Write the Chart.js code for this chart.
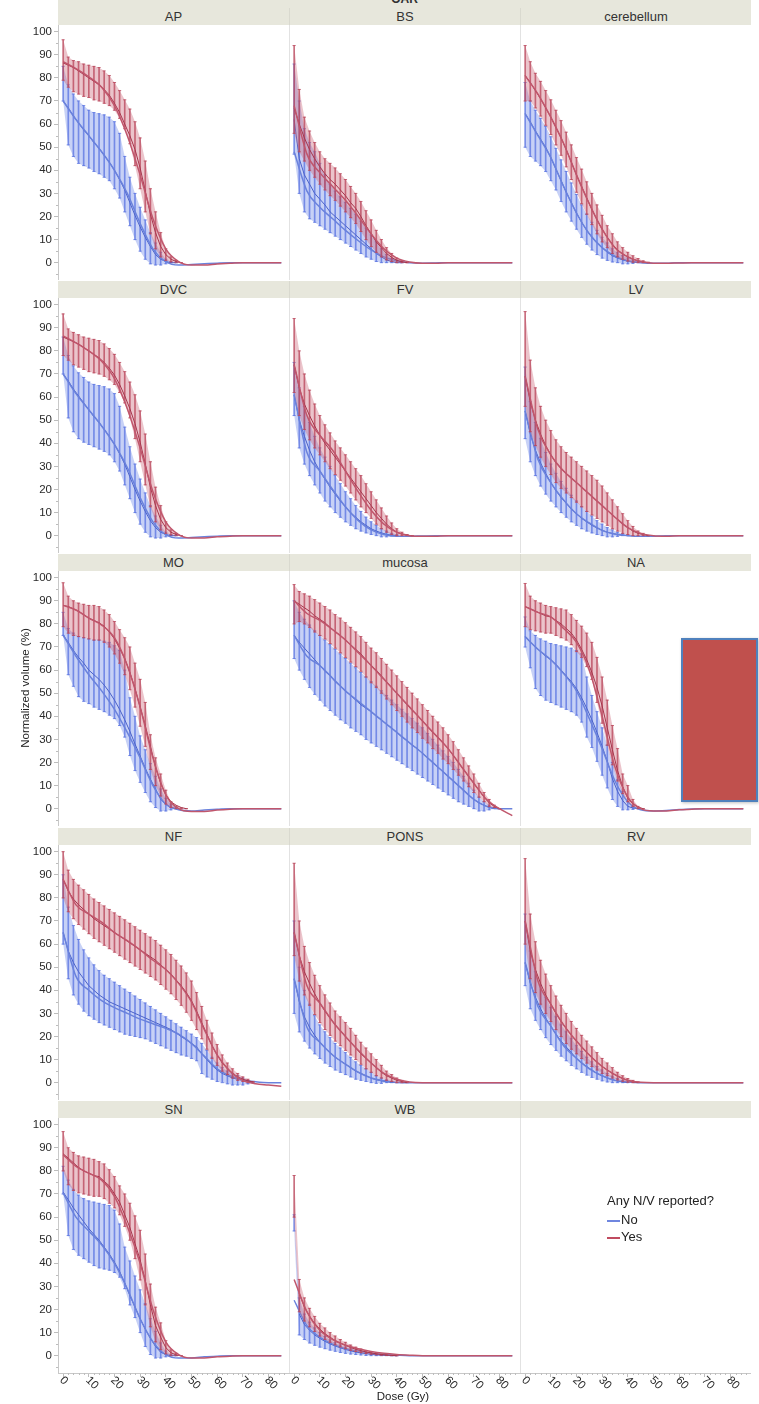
<!DOCTYPE html>
<html><head><meta charset="utf-8">
<script src="https://cdn.jsdelivr.net/npm/chart.js@4.4.1/dist/chart.umd.min.js"></script>
<style>
html,body{margin:0;padding:0;background:#fff;}
#wrap{position:relative;width:759px;height:1404px;overflow:hidden;font-family:"Liberation Sans",Arial,sans-serif;color:#222;}
.strip{position:absolute;background:#e7e7dc;color:#333;font-size:13px;text-align:center;height:17px;line-height:17px;box-sizing:border-box;}
canvas{position:absolute;}
.vline{position:absolute;width:1px;background:#e2e2e2;}
.txt{position:absolute;white-space:nowrap;}
.xl{position:absolute;white-space:nowrap;font-size:11.5px;line-height:12px;color:#2a2a2a;transform:rotate(45deg);transform-origin:0 50%;}
</style>
</head><body><div id="wrap"></div>
<script>
// ---------- categories / ticks ----------
const panelNames = ['AP','BS','cerebellum','DVC','FV','LV','MO','mucosa','NA','NF','PONS','RV','SN','WB'];
const seriesNames = ['No','Yes'];
const doses = [0,2,4,6,8,10,12,14,16,18,20,22,24,26,28,30,32,34,36,38,40,42,44,46,48,50,52,54,56,58,60,62,64,66,68,70,72,74,76,78,80];
const fitDoses = [0,5,10,15,20,25,30,35,40,45,50,55,60,65,70,75,80,85];
const xTickValues = [0,10,20,30,40,50,60,70,80];
const yTickValues = [0,10,20,30,40,50,60,70,80,90,100];
const xMinorTicks = [2,4,6,8,12,14,16,18,22,24,26,28,32,34,36,38,42,44,46,48,52,54,56,58,62,64,66,68,72,74,76,78,82,84,86];
const yMinorTicks = [-5,5,15,25,35,45,55,65,75,85,95];

// ---------- AP ----------
const AP_yes_mean = [86.5,85.5,84.5,83,81.5,80,78.5,77,75,72.5,69,65,60,55,49,41,31,21,13,7,3.5,1.5,0.5,0];
const AP_yes_hi   = [96.5,89,87.5,87,86,85.5,85,84.5,83,81,78,74.5,70.5,66.5,61,54,44,32,22,13,6,2.5,1,0];
const AP_yes_lo   = [79,76,74,73,72,71.5,70.5,70,69,68,66,62.5,58,51.5,42,32,22,12.5,6,2.5,1,0.3,0,0];
const AP_yes_fit  = [87,84,80.5,76,68,55,38,19,6,0.5,-1,-1,-0.6,-0.3,0,0,0,0];
const AP_no_mean  = [70,67,63.5,60.5,57.5,55,52,49.5,46.5,43.5,40,36,31.5,26,20.5,15.5,11,7,3.5,1.5,0.5,0,0];
const AP_no_hi    = [85,77,73,70,68,66,65,64.5,64,63,61,56,46,37,30,24,18.5,13,8.5,4.5,1.5,0.5,0];
const AP_no_lo    = [70,51,46,43,42,41,39.5,38.5,37,35.5,32,28,22,16,10,5,1.5,-0.5,-1,-1,-0.5,0,0];
const AP_no_fit   = [70,62,55,48,40,30,17,6,0.5,-1,-0.8,-0.5,-0.2,0,0,0,0,0];
// ---------- BS ----------
const BS_yes_mean = [67,60,54,49,45,41.5,38.5,36,34,31.5,29,26,23.5,20,16,12.5,9,6.5,4,2.3,1,0.4,0];
const BS_yes_hi   = [94,75,63,57,52,48,45,43,41,38.5,36,33,30,26.5,22.5,18.5,14,10,6.5,4,2,0.8,0];
const BS_yes_lo   = [56,48,44,40,37,34,31.5,29,27,24.5,22,19.5,17,13.5,10,7,4.5,2.5,1.2,0.5,0,0,0];
const BS_yes_fit  = [68,47,39,33,27,20,12.5,6,2,0.3,-0.2,-0.2,0,0,0,0,0,0];
const BS_no_mean  = [62,45,38,34,30,27.5,25,22,20,18,16,14,12,10,8,6,4,2.5,1.2,0.5,0,0];
const BS_no_hi    = [86,70,58,52,48,43,38,34,31,28.5,26,23.5,21,18,15,12,9,6,3.5,1.8,0.7,0];
const BS_no_lo    = [47,30,22,19,17.5,16,14.5,13,11.5,10,8.5,7,5.5,4,2.5,1.5,0.5,0,0,0,0,0];
const BS_no_fit   = [48,31,24,19,14,9.5,5.5,2.5,0.8,0,-0.2,-0.1,0,0,0,0,0,0];
// ---------- cerebellum ----------
const CER_yes_mean = [81,78,74.5,71,67,63,58.5,54,49,43.5,38,33,28,23,18.5,14.5,11,8,5.5,3.8,2.5,1.5,0.8,0.3,0];
const CER_yes_hi   = [94,87,82,78.5,74.5,70.5,66,61.5,56.5,51,45.5,40.5,35,30,25,20.5,16,12.5,9,6.5,4.5,3,1.8,0.8,0.2];
const CER_yes_lo   = [70,70,67,63.5,59.5,55.5,51,46.5,41.5,36,30.5,25.5,21,16.5,12.5,9,6.5,4,2.5,1.5,0.7,0.2,0,0,0];
const CER_yes_fit  = [81,73,63,51.6,38,25.5,14.5,6.5,2.5,0.5,-0.2,-0.3,-0.1,0,0,0,0,0];
const CER_no_mean  = [64.5,61,57,53.5,50,45.5,40.5,35.5,30.5,26,21.5,17.5,14,11,8.5,6.5,4.5,3,2,1.2,0.6,0.3,0];
const CER_no_hi    = [78,70,66,62.5,59,54.5,49.5,44.5,39.5,34.5,29.5,25,21,17.5,14,11,8.5,6,4.3,3,2,1.2,0.5];
const CER_no_lo    = [50,46,44,42,39.5,35.5,31.5,26.5,22,18,14.5,11,8,5.5,3.5,2,1,0.3,0,-0.5,-0.5,-0.3,0];
const CER_no_fit   = [64.5,55,45.5,33,21.5,12.5,6.5,2.8,0.8,0,-0.3,-0.2,0,0,0,0,0,0];
// ---------- DVC ----------
const DVC_yes_mean = [86,85,84,83,81.5,80,78.5,77,75,72.5,69.5,65.5,60.5,55,48.5,40.5,31,21,13,7,3.5,1.5,0.5,0];
const DVC_yes_hi   = [96,89.5,88,87,86,85.5,85,84.5,83,81,78.5,75,71,66.5,61,54,44,32,21,13,6,2.5,1,0];
const DVC_yes_lo   = [78,76,74,73,72,71,70.5,70,69,67.5,65.5,62,57.5,51,42,32,22,12.5,6,2.5,1,0.3,0,0];
const DVC_yes_fit  = [86.5,83.5,80,75.5,68,55,38,19,6,0.5,-1,-1,-0.5,-0.2,0,0,0,0];
const DVC_no_mean  = [70,67,63.5,60.5,57.5,54.5,51.5,49,46,43,39.5,35.5,31,25.5,20,15,10.5,6.5,3.5,1.5,0.5,0,0];
const DVC_no_hi    = [86,78,73.5,70.5,68.5,66.5,65.5,65,64.5,63.5,61.5,56,47,38.5,31,24.5,18.5,13,8.5,4.5,1.5,0.5,0];
const DVC_no_lo    = [70,51,45,42,40.5,39.5,38.5,37.5,36.5,35,32,28,22,16,10,5,1.5,-0.5,-1,-1,-0.5,0,0];
const DVC_no_fit   = [70,61.5,54.5,47.5,39.5,29.5,16.5,6,0.5,-1,-0.8,-0.5,-0.2,0,0,0,0,0];
// ---------- FV ----------
const FV_yes_mean = [74,64,57,52,47.5,43.5,40,37,34,31,28,25,22,19,16,13,10,7.5,5,3,1.5,0.7,0.2,0];
const FV_yes_hi   = [94,80,70,63,57,52,48,44.5,41,38,35,32,29,26,22.5,19,15.5,12,8.5,5.5,3,1.5,0.5,0];
const FV_yes_lo   = [62,52,46,41.5,38,35,32,29,26.5,24,21.5,18.5,15.5,12.5,10,7.5,5,3,1.5,0.5,0,0,0,0];
const FV_yes_fit  = [74,52,43.5,37,28,19,11,5,1.5,0,-0.3,-0.2,0,0,0,0,0,0];
const FV_no_mean  = [61,50,43,37,32,28,24.5,21,18,15,12.5,10,8,6,4.5,3,2,1.2,0.6,0.2,0];
const FV_no_hi    = [75,64,56,49,43,38,34,30,26,22.5,19,16,13,10.5,8,6,4.5,3,2,1,0.5];
const FV_no_lo    = [52,38,31,26,22,18.5,15,12.5,10,8,6,4.5,3,2,1.2,0.5,0,-0.5,-0.5,0,0];
const FV_no_fit   = [61,36,28,20,12.5,6.5,2.5,0.5,-0.3,-0.3,-0.1,0,0,0,0,0,0,0];
// ---------- LV ----------
const LV_yes_mean = [69,58,50,44,39,35,31.5,29,27,25,23,21,19,17,15,13,11,9,7,5,3.5,2,1,0.5,0];
const LV_yes_hi   = [97,76,64,56,50,45.5,41.5,38.5,36,34,32,30,28,26,24,21.5,18.5,15.5,12.5,9.5,6.5,4,2,1,0];
const LV_yes_lo   = [56,45,39,34,30,26.5,23,20.5,18.5,16.5,14.5,12.5,10.5,9,7.5,6,4.5,3,2,1,0.5,0,0,0,0];
const LV_yes_fit  = [69,46,35,28,23,18,13,8,3.5,1,0,-0.2,0,0,0,0,0,0];
const LV_no_mean  = [54,44,37,31.5,27,23,19.5,16.5,14,11.5,9.5,7.5,6,4.5,3.3,2.3,1.5,0.9,0.5,0.2,0];
const LV_no_hi    = [73,58,49,42,36,31,27,23.5,20.5,17.5,15,12.5,10.5,8.5,6.5,5,3.5,2.5,1.5,0.8,0.3];
const LV_no_lo    = [42,32,26,21.5,18,15,12.5,10,8,6,4.5,3,2,1.2,0.5,0,-0.5,-0.5,-0.3,0,0];
const LV_no_fit   = [54,33,23,15.5,9.5,5.5,2.3,0.7,0,-0.3,-0.2,0,0,0,0,0,0,0];
// ---------- MO ----------
const MO_yes_mean = [88,87.5,86.5,85.5,84,82.5,81.5,80.5,79,76.5,73.5,69.5,65,59,52,44,36,27,18,11,6,3,1.5,0.5,0];
const MO_yes_hi   = [97.8,92,90,89,88.5,88,88,87.5,86,84,81,77.5,74,70,63,56,46,32,22,15,8,3,1,0.3,0];
const MO_yes_lo   = [78.8,76,75,74.5,74,73.5,73,73,72,70,67,63,58,51.5,44,35.7,27,17,10,5.5,2,0.5,0,0,0];
const MO_yes_fit  = [88,86,82.5,79.5,74,62,44,22,6,0,-1.2,-1.2,-0.6,-0.2,0,0,0,0];
const MO_no_mean  = [75.3,72,68.5,65.5,63,60,58,56,53.5,50.5,47,43,38.5,33.5,28,22.8,17.5,12.8,8.5,4.1,1.8,0.7,0];
const MO_no_hi    = [85,78,76,74.5,74,73.5,73,73,72.5,72,70.5,68.5,60,48,40,31.5,25.5,19.5,14,8.5,4.5,2,0.5];
const MO_no_lo    = [75,58,53,48.5,46.5,45.5,44,43,42,40.5,39,36,31,23,16.5,11.4,7,3,0.5,-1,-1,-0.5,0];
const MO_no_fit   = [75,66,58,51,43,33,22,10,2,-0.5,-1,-0.6,-0.3,0,0,0,0,0];
// ---------- mucosa ----------
const MUC_yes_mean = [90,88.5,87,85.5,83.5,82,80.5,78.5,76.5,75,73,71,69,67,64.5,62,60,57.5,55,52.5,50,47.5,45,42.5,40.5,38,35.5,33,31,28.5,26,23,20,17,14,11,8,5,2.5,1,0];
const MUC_yes_hi   = [97,94,93,92,90.5,89,87.5,86,84,82.5,80.5,78.5,76.5,74.5,72,69.5,67.5,65,62.5,60,57.5,55,52.5,50,47.5,45,42.5,40,37.5,35,32,29,25.5,22,18.5,15,11,7,4,1.5,0];
const MUC_yes_lo   = [80,81,80,78.5,76.5,75,73.5,71.5,69.5,67.5,65.5,63.5,61.5,59.5,57,54.5,52.5,50,47.5,45,42.5,40,37.5,35,33,30.5,28.5,26,24,21.5,19.5,17,14.5,12,9.5,7,5,3,1,0.5,0];
const MUC_yes_fit  = [90,84.5,81.5,77.5,73,67.5,62,56,50,44,38,32,26,18.5,11,4,0,-3];
const MUC_no_mean  = [75,72,69.5,67,64.5,62,59.5,57.5,55,53,51,49,47,45,43.5,42,40,38.5,36.5,35,33,31,29.5,27.5,26,24,22,20,18,16,14,12,10,8,6,4,2.5,1.5,0.5,0,0];
const MUC_no_hi    = [90,85,82,79.5,77,75,73,71,69,67,65,63,61,59,57,55,53,51,49,47,45,43,41,39,37,35,32.5,30,27.5,25,22.5,20,17,14,11,8,5,3,1.5,0.5,0];
const MUC_no_lo    = [65,60,56,52.5,49.5,47,44.5,42.5,40.5,38.5,37,35,33.5,32,30,28.5,27,25.5,24,22.5,21,19.5,18,16.5,15,13.5,12,10.5,9,7.5,6,4.5,3,2,1,0,-1,-1,-0.5,0,0];
const MUC_no_fit   = [75,66,62,56.5,51,46.5,42,37.5,33,28.5,24,19,14,9,4,1,0,0];
// ---------- NA ----------
const NA_yes_mean = [87.5,86.5,85.5,84.5,83.5,83,81.5,80,78,76,73,69,64.5,59,52.5,44.5,35,25.5,16.5,9.5,4.5,2,0.7,0];
const NA_yes_hi   = [97.5,92,90,89,88,87.5,87,86.5,86,84,81.5,79,76,72,65.5,57,47,36,26,15,10,4,1,0];
const NA_yes_lo   = [78.8,77.5,77,76.5,76,76,75,74,73,71,68,65.5,61.5,56,46,37,27.5,19,12,6.5,3,1,0,0];
const NA_yes_fit  = [87.5,85,83,78,72,60,40,18,5,0,-1,-1,-0.5,-0.2,0,0,0,0];
const NA_no_mean  = [74.5,72,70,68,66,64.5,62.5,60,57.5,55,52,48,43.5,38.5,33,27,20.5,13,7.5,3.5,1,0.3,0];
const NA_no_hi    = [83,77,75,73.5,72.5,71.5,71,70.5,70,69.5,68.5,67,57,49,42,35,27.5,20,12.5,7.5,3,1,0.3];
const NA_no_lo    = [70,61,52,49,47,46,45,44,43,42,40.5,37.5,31,26.5,20.5,14.5,9,4,1,-0.5,-0.5,-0.3,0];
const NA_no_fit   = [74.5,69,64.5,58.5,51,39,26,12,3,-0.5,-1,-0.8,-0.4,-0.1,0,0,0,0];
// ---------- NF ----------
const NF_yes_mean = [88,83,79.5,77,75,73,71,69.5,68,66.5,65,63.5,62,60.5,59,57.5,56,54.5,53,51,49,47,44.5,42,39,35.5,31,26,21,16,12,8.5,6,4,2.5,1.5,0.8,0.3];
const NF_yes_hi   = [100,92,88,85.5,83.5,81.5,79.5,78,76.5,75,73.5,72,70.5,69,67.5,66,64.5,63,61.5,59.5,57.5,55.5,53,50.5,47.5,44,39,33,27,21.5,16.5,12,8.5,6,4,2.5,1.5,0.5];
const NF_yes_lo   = [80,74,71,68.5,66.5,64.5,62.5,61,59.5,58,56.5,55,53.5,52,50.5,49,47.5,46,44.5,42.5,40.5,38.5,36,33.5,30.5,27,23,19,14.5,10.5,7.5,5,3.5,2,1,0.5,0,0];
const NF_yes_fit  = [88,77,73,69.5,65,61.5,57.5,53,49,43,35,23,12,5,1,-0.5,-1,-1.5];
const NF_no_mean  = [65,57,52,48,45,42,40,38,36.5,35,34,33,32,31,30,29,28,27,26,25,24,23,21.5,20,18.5,17,15.5,12.5,10,7.5,5.5,4,3,2,1.5,1,0.5,0];
const NF_no_hi    = [90,76,68,62,57.5,54,51,48.5,46.5,45,43.5,42,40.5,39,37.5,36,34.5,33,31.5,30,28.5,27,25.5,24,22.5,21,19.5,17,14,11,8.5,6.5,5,4,3,2,1,0.5];
const NF_no_lo    = [60,45,38,34,31,29,27.5,26,25,24,23,22,21,20.5,20,19.5,19,18,17,16,15,14,13,12,11.5,10.5,9.5,4,2.5,1.5,0.5,0,-0.5,-1,-1,-1,-0.5,0];
const NF_no_fit   = [65,46,40,35.5,32.5,30,27.5,25.5,23.5,21,17,11.5,6,3,1.2,0.4,0,0];
// ---------- PONS ----------
const PONS_yes_mean = [65,55,48,43,38.5,34.5,31,28,25,22.5,20,17.5,15,12.5,10.5,8.5,6.5,4.5,3,2,1,0.5,0];
const PONS_yes_hi   = [95,70,59,52,46.5,42,38,34.5,31,28.5,26,23.5,20.5,17.5,15,12.5,10,7.5,5,3.5,2,1,0.3];
const PONS_yes_lo   = [55,44,38,33.5,29.5,26,23,20.5,18,16,14,12,10,8,6,4.5,3,2,1,0.5,0,0,0];
const PONS_yes_fit  = [65,42,34.5,26.5,20,14,8.5,4,1.5,0.3,0,0,0,0,0,0,0,0];
const PONS_no_mean  = [45,35,28.5,24,20.5,17.5,15,13,11,9.5,8,6.5,5,4,3,2,1.3,0.8,0.4,0.1,0];
const PONS_no_hi    = [70,50,40,34,29,25,22,19.5,17,15,13,11,9,7.5,6,4.5,3,2,1.2,0.6,0.2];
const PONS_no_lo    = [30,22,18,15,12.5,10.5,8.5,7,5.5,4.5,3.5,2.5,1.5,1,0.5,0,-0.3,-0.3,0,0,0];
const PONS_no_fit   = [45,24,17.5,12,8,4.5,2,0.8,0.1,0,0,0,0,0,0,0,0,0];
// ---------- RV ----------
const RV_yes_mean = [70,57,49,43,38,34,30,26.5,23.5,20.5,18,15.5,13,11,9,7,5.5,4,2.8,1.8,1,0.5,0];
const RV_yes_hi   = [97,73,61,53,47,42,37.5,33.5,30,26.5,23.5,20.5,18,15.5,13,10.5,8.5,6.5,4.5,3,1.8,1,0.3];
const RV_yes_lo   = [60,45,39,34,30,26.5,23,20,17,14.5,12.5,10.5,8.5,7,5.5,4,3,2,1.2,0.6,0.2,0,0];
const RV_yes_fit  = [70,44,34,25,18,12,7,3.5,1,0.2,0,0,0,0,0,0,0,0];
const RV_no_mean  = [52,43,37,32,28,24.5,21,18,15.5,13,10.5,8.5,7,5.5,4,3,2,1.3,0.7,0.3,0];
const RV_no_hi    = [73,57,48,42,37,32.5,28.5,25,22,19,16,13.5,11,9,7,5.5,4,2.8,1.8,1,0.4];
const RV_no_lo    = [42,32,27,23,19.5,16.5,14,11.5,9.5,7.5,6,4.5,3.3,2.3,1.5,0.8,0.3,0,0,0,0];
const RV_no_fit   = [52,33,24.5,16,10.5,6,3,1,0.3,0,0,0,0,0,0,0,0,0];
// ---------- SN ----------
const SN_yes_mean = [87.4,85.5,83.5,81.5,80,79,78,77.5,75.5,73.5,70,66.5,61,55.5,48.5,41.5,32.5,22,13,8,3.5,1.3,0.3,0];
const SN_yes_hi   = [97,90,88,86.5,86,85.5,85,84,83,80.5,77.5,73.5,70,66,60.5,54.3,44,31,21,14.2,6.5,2.5,1,0];
const SN_yes_lo   = [80,74,71.5,70.5,70,69.5,69,69,68,66,64,61,56,50,42,32.8,22,12.5,6,2.6,0.8,0,0,0];
const SN_yes_fit  = [87,82,79,76,69,56,40,20,6,0.5,-1,-1,-0.5,-0.2,0,0,0,0];
const SN_no_mean  = [70.8,67.5,64,61,58,55,52.5,50,47,44,40.5,36.5,31.5,26,21,16,11.5,7.5,4,1.5,0.5,0,0];
const SN_no_hi    = [82,76,72,69.5,68,67,66.5,66,65.5,65,63,57,47,41,34.5,28.5,22.5,16,10.5,5.5,2,0.5,0];
const SN_no_lo    = [70,52,46,43.5,42,40.5,39,38,37.5,37,36,34,29,22,16.5,10,4,0.5,-1,-1,-0.5,0,0];
const SN_no_fit   = [70.5,60,54,48,40,29,16,6,0.5,-1,-1,-0.5,-0.2,0,0,0,0,0];
// ---------- WB ----------
const WB_yes_mean = [62,27,21,17,14,11.5,9.5,8,6.5,5.5,4.5,3.5,2.8,2.2,1.6,1.2,0.8,0.5,0.3,0.1,0];
const WB_yes_hi   = [78,33,25,20.5,17,14,12,10,8.5,7,5.8,4.6,3.7,2.9,2.2,1.6,1.1,0.7,0.4,0.2,0];
const WB_yes_lo   = [60,19,15,12.5,10.5,8.5,7,5.8,4.7,3.8,3,2.3,1.8,1.3,0.9,0.6,0.4,0.2,0.1,0,0];
const WB_yes_fit  = [33,19,11,7,4.5,3,1.8,1,0.5,0.2,0,0,0,0,0,0,0,0];
const WB_no_mean  = [58,18,13.5,11,9,7.5,6.2,5.1,4.2,3.4,2.7,2.1,1.6,1.2,0.9,0.6,0.4,0.2,0.1,0,0];
const WB_no_hi    = [61,25,18,14.5,12,10,8.3,6.8,5.6,4.6,3.7,2.9,2.2,1.7,1.2,0.8,0.5,0.3,0.2,0.1,0];
const WB_no_lo    = [54,9,7,5.5,4.5,3.7,3,2.4,1.9,1.4,1,0.7,0.5,0.3,0.1,0,0,0,0,0,0];
const WB_no_fit   = [24,13,8,5,3,2,1,0.5,0.2,0,0,0,0,0,0,0,0,0];

// table built from the arrays above
const SERIES = {
  AP:{no:[AP_no_mean,AP_no_lo,AP_no_hi,AP_no_fit],yes:[AP_yes_mean,AP_yes_lo,AP_yes_hi,AP_yes_fit]},
  BS:{no:[BS_no_mean,BS_no_lo,BS_no_hi,BS_no_fit],yes:[BS_yes_mean,BS_yes_lo,BS_yes_hi,BS_yes_fit]},
  cerebellum:{no:[CER_no_mean,CER_no_lo,CER_no_hi,CER_no_fit],yes:[CER_yes_mean,CER_yes_lo,CER_yes_hi,CER_yes_fit]},
  DVC:{no:[DVC_no_mean,DVC_no_lo,DVC_no_hi,DVC_no_fit],yes:[DVC_yes_mean,DVC_yes_lo,DVC_yes_hi,DVC_yes_fit]},
  FV:{no:[FV_no_mean,FV_no_lo,FV_no_hi,FV_no_fit],yes:[FV_yes_mean,FV_yes_lo,FV_yes_hi,FV_yes_fit]},
  LV:{no:[LV_no_mean,LV_no_lo,LV_no_hi,LV_no_fit],yes:[LV_yes_mean,LV_yes_lo,LV_yes_hi,LV_yes_fit]},
  MO:{no:[MO_no_mean,MO_no_lo,MO_no_hi,MO_no_fit],yes:[MO_yes_mean,MO_yes_lo,MO_yes_hi,MO_yes_fit]},
  mucosa:{no:[MUC_no_mean,MUC_no_lo,MUC_no_hi,MUC_no_fit],yes:[MUC_yes_mean,MUC_yes_lo,MUC_yes_hi,MUC_yes_fit]},
  NA:{no:[NA_no_mean,NA_no_lo,NA_no_hi,NA_no_fit],yes:[NA_yes_mean,NA_yes_lo,NA_yes_hi,NA_yes_fit]},
  NF:{no:[NF_no_mean,NF_no_lo,NF_no_hi,NF_no_fit],yes:[NF_yes_mean,NF_yes_lo,NF_yes_hi,NF_yes_fit]},
  PONS:{no:[PONS_no_mean,PONS_no_lo,PONS_no_hi,PONS_no_fit],yes:[PONS_yes_mean,PONS_yes_lo,PONS_yes_hi,PONS_yes_fit]},
  RV:{no:[RV_no_mean,RV_no_lo,RV_no_hi,RV_no_fit],yes:[RV_yes_mean,RV_yes_lo,RV_yes_hi,RV_yes_fit]},
  SN:{no:[SN_no_mean,SN_no_lo,SN_no_hi,SN_no_fit],yes:[SN_yes_mean,SN_yes_lo,SN_yes_hi,SN_yes_fit]},
  WB:{no:[WB_no_mean,WB_no_lo,WB_no_hi,WB_no_fit],yes:[WB_yes_mean,WB_yes_lo,WB_yes_hi,WB_yes_fit]}
};
const MEAN_LINE_START = {WB:1};

// ---------- styling / layout ----------
const FONT = '"Liberation Sans", Arial, sans-serif';
const STYLE = {
  no:  {band:'rgba(122,146,234,0.42)', bar:'rgba(92,118,226,0.78)', mean:'#4a61c8', fit:'#6a82dc'},
  yes: {band:'rgba(204,108,124,0.40)', bar:'rgba(186,72,92,0.78)', mean:'#a6354c', fit:'#c0566c'}
};
const COL_X = [58, 289, 520], COL_W = 231;
const STRIP_TOP = [8, 281, 554, 828, 1101];
const STRIP_H = 17, PLOT_H = 255, XAXIS_H = 34, YAXIS_W = 58, PADL = 12;
const AXIS_GREY = '#bdbdbd';

const wrap = document.getElementById('wrap');
function el(tag, cls, css, text) {
  const e = document.createElement(tag);
  if (cls) e.className = cls;
  Object.assign(e.style, css);
  if (text !== undefined) e.textContent = text;
  wrap.appendChild(e);
  return e;
}

// small minor tick marks along the displayed axes, positioned by the chart's own scales
const minorTickPlugin = {
  id: 'minorTicks',
  afterDraw(chart) {
    const ctx = chart.ctx, xs = chart.scales.x, ys = chart.scales.y;
    ctx.save();
    ctx.strokeStyle = AXIS_GREY; ctx.lineWidth = 1;
    if (xs.options.display) {
      xMinorTicks.forEach(v => {
        const p = Math.round(xs.getPixelForValue(v)) + 0.5;
        ctx.beginPath(); ctx.moveTo(p, xs.top); ctx.lineTo(p, xs.top + 2); ctx.stroke();
      });
    }
    if (ys.options.display) {
      yMinorTicks.forEach(v => {
        const p = Math.round(ys.getPixelForValue(v)) + 0.5;
        ctx.beginPath(); ctx.moveTo(ys.right - 2, p); ctx.lineTo(ys.right, p); ctx.stroke();
      });
    }
    ctx.restore();
  }
};

// header strip "OAR"
el('div','strip',{left:'58px',top:'-9px',width:'693px',fontWeight:'bold',fontSize:'12px'},'OAR');

function pts(xs, arr){ return arr.map((v,i)=>({x:xs[i], y:v})); }

function buildDatasets(name){
  const ds = [];
  if (!name) return ds;
  ['no','yes'].forEach(key=>{
    const st = STYLE[key];
    const [mean, lo, hi, fit] = SERIES[name][key];
    ds.push({type:'line', data:pts(doses,hi), borderWidth:0, pointRadius:0, fill:'+1', backgroundColor:st.band, tension:0});
    ds.push({type:'line', data:pts(doses,lo), borderWidth:0, pointRadius:0, fill:false, tension:0});
    ds.push({type:'bar', data:lo.map((v,i)=>({x:doses[i], y:[v, hi[i]]})), backgroundColor:st.bar, barThickness:1, grouped:false, borderWidth:0});
    ds.push({type:'line', showLine:false, data:pts(doses,lo).concat(pts(doses,hi)), pointStyle:'line', pointRadius:1.6, pointBorderWidth:1, pointBorderColor:st.bar, pointBackgroundColor:st.bar});
    const s = MEAN_LINE_START[name] || 0;
    ds.push({type:'line', data:pts(doses,mean).slice(s), borderColor:st.mean, borderWidth:1, pointRadius:0, tension:0});
    ds.push({type:'line', data:pts(fitDoses,fit), borderColor:st.fit, borderWidth:1.5, pointRadius:0, cubicInterpolationMode:'monotone'});
  });
  ds.forEach((d,i)=>{ d.order = 100 - i; });
  return ds;
}
function zeroPad(s){ s.paddingLeft = 0; s.paddingRight = 0; s.paddingTop = 0; s.paddingBottom = 0; }

for (let k = 0; k < 15; k++) {
  const r = Math.floor(k/3), c = k % 3;
  const name = panelNames[k];
  el('div','strip',{left:COL_X[c]+'px', top:STRIP_TOP[r]+'px', width:COL_W+'px', borderLeft: c>0 ? '1px solid #d9d9cf' : 'none'}, name || '');
  const plotTop = STRIP_TOP[r] + STRIP_H;
  if (c > 0) el('div','vline',{left:COL_X[c]+'px', top:plotTop+'px', height:PLOT_H+'px'});
  const showY = c === 0, showX = r === 4;
  const cv = document.createElement('canvas');
  const left = showY ? 0 : COL_X[c] - PADL;
  const w = showY ? COL_X[0] + COL_W : COL_W + PADL;
  const h = PLOT_H + (showX ? XAXIS_H : 0);
  cv.width = w; cv.height = h;
  Object.assign(cv.style, {left:left+'px', top:plotTop+'px', width:w+'px', height:h+'px'});
  wrap.appendChild(cv);
  const chart = new Chart(cv, {
    type:'line',
    data:{datasets:buildDatasets(name)},
    plugins:[minorTickPlugin],
    options:{
      responsive:false, animation:false, devicePixelRatio:1, events:[],
      layout:{autoPadding:false, padding:{left: showY ? 0 : PADL, right:0, top:0, bottom:0}},
      plugins:{legend:{display:false}, tooltip:{enabled:false}},
      scales:{
        x:{type:'linear', min:-2, max:88, display:showX, offset:false,
           afterBuildTicks:s=>{ s.ticks = xTickValues.map(v=>({value:v})); },
           afterFit:s=>{ zeroPad(s); if (showX) s.height = XAXIS_H; else s.height = 0; },
           ticks:{display:false},
           grid:{display:true, offset:false, drawOnChartArea:false, tickLength:4, color:AXIS_GREY},
           border:{display:true, color:'#c8c8c8'}},
        y:{type:'linear', min:-7.5, max:102.9, display:showY, offset:false,
           afterBuildTicks:s=>{ s.ticks = yTickValues.map(v=>({value:v})); },
           afterFit:s=>{ zeroPad(s); if (showY) s.width = YAXIS_W; else s.width = 0; },
           ticks:{padding:2, color:'#2a2a2a', font:{family:FONT, size:11.5}},
           grid:{display:true, offset:false, drawOnChartArea:false, tickLength:4, color:AXIS_GREY},
           border:{display:true, color:'#c8c8c8'}}
      }
    }
  });
  // rotated x tick labels (text descends to the right of each tick), placed from the library's x scale
  if (showX) {
    const xs = chart.scales.x;
    xTickValues.forEach(v=>{
      const px = left + xs.getPixelForValue(v);
      const py = plotTop + xs.top + 5;
      el('div','xl',{left:(px-1)+'px', top:(py-6)+'px'}, String(v));
    });
  }
}

// axis titles
el('div','txt',{left:'-45px', top:'682px', width:'140px', textAlign:'center', fontSize:'11.5px', transform:'rotate(-90deg)', transformOrigin:'50% 50%'}, 'Normalized volume (%)');
el('div','txt',{left:'353px', top:'1390px', width:'100px', textAlign:'center', fontSize:'11.5px'}, 'Dose (Gy)');

// legend
el('div','txt',{left:'607px', top:'1193px', fontSize:'13px'}, 'Any N/V reported?');
el('div','txt',{left:'607px', top:'1220px', width:'13px', height:'1.5px', background:'#6f86df'});
el('div','txt',{left:'621px', top:'1212px', fontSize:'13px'}, seriesNames[0]);
el('div','txt',{left:'607px', top:'1237px', width:'13px', height:'1.5px', background:'#c04b60'});
el('div','txt',{left:'621px', top:'1229px', fontSize:'13px'}, seriesNames[1]);

// overlay box
el('div','',{position:'absolute', left:'681px', top:'638px', width:'77px', height:'164px', background:'#c0504d', border:'2px solid #4f81bd', boxSizing:'border-box', boxShadow:'1px 1px 3px rgba(0,0,0,0.25)'});
</script>
</body></html>
